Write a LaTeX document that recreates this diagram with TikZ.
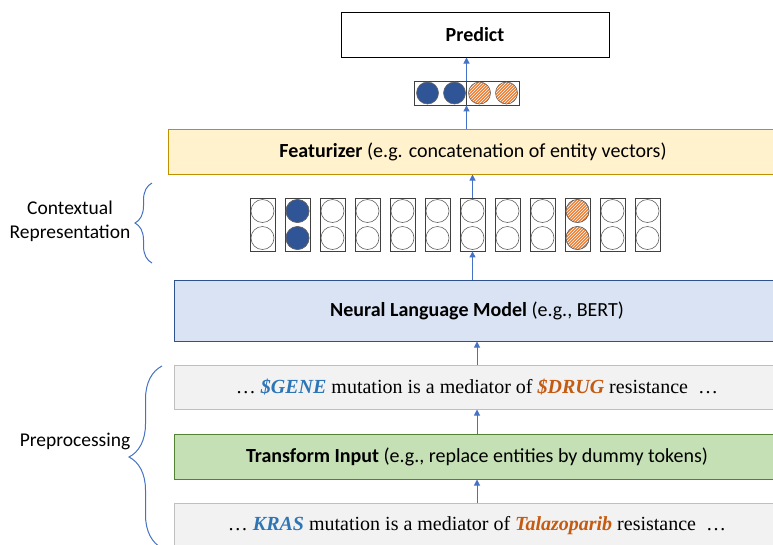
\documentclass[tikz,border=0pt]{standalone}
\usepackage{fontspec}
\setmainfont{Carlito}
\newfontfamily\sentfont{Liberation Serif}
\usepackage{tikz}
\usetikzlibrary{arrows.meta, patterns, decorations.pathreplacing, calc}
\definecolor{Arrow_Blue}{RGB}{68,114,196}
\definecolor{Gene_Blue}{RGB}{46,117,182}
\definecolor{Drug_Orange}{RGB}{197,90,17}
\definecolor{Dot_Blue}{RGB}{47,85,151}
\definecolor{Dot_Orange}{RGB}{237,125,49}
\definecolor{Dot_Line}{RGB}{100,100,100}
\definecolor{Cell_Line}{RGB}{64,64,64}
\definecolor{Feat_Fill}{RGB}{255,242,204}
\definecolor{Feat_Line}{RGB}{191,144,0}
\definecolor{Model_Fill}{RGB}{218,227,243}
\definecolor{Model_Line}{RGB}{47,82,143}
\definecolor{Sent_Fill}{RGB}{242,242,242}
\definecolor{Sent_Line}{RGB}{191,191,191}
\definecolor{Trans_Fill}{RGB}{197,224,180}
\definecolor{Trans_Line}{RGB}{84,130,53}

\begin{document}
\begin{tikzpicture}[x=1pt, y=-1pt,
    box/.style={draw, line width=1pt, minimum width=606pt, minimum height=45pt,
        inner sep=0pt, font=\fontsize{20}{24}\selectfont},
    sent/.style={box, draw=Sent_Line, fill=Sent_Fill, font=\sentfont\fontsize{20}{24}\selectfont},
    cell/.style={draw=Cell_Line, line width=0.8pt, minimum width=25pt,
        minimum height=53pt, inner sep=0pt},
    dot/.style={circle, draw=Dot_Line, line width=0.6pt, minimum size=23pt, inner sep=0pt},
    bluedot/.style={dot, fill=Dot_Blue},
    orangedot/.style={dot, preaction={fill=Dot_Orange}, pattern=north east lines, pattern color=white},
    arr/.style={Arrow_Blue, line width=1pt, -{Triangle[width=6pt,length=6pt]}},
    brc/.style={Arrow_Blue, line width=1pt, decorate},
    side/.style={font=\fontsize{19.5}{24}\selectfont, align=center}
]
    %% Background
    \useasboundingbox (0,0) rectangle (773,544);

    %% Predict
    \node[box, draw=black, fill=white, minimum width=268pt, font=\fontsize{20}{24}\selectfont\bfseries]
        (predict) at (475,34.5) {Predict};

    %% Entity vector
    \node[cell, minimum width=105pt, minimum height=24pt] (entvec) at (466.5,93) {};
    \draw[Cell_Line, line width=0.8pt] (entvec.north) to (entvec.south);
    \node[bluedot, minimum size=22pt] (e1) at (427.5,93) {};
    \node[bluedot, minimum size=22pt] (e2) at (454.5,93) {};
    \node[orangedot, minimum size=22pt] (e3) at (479.5,93) {};
    \node[orangedot, minimum size=22pt] (e4) at (506.5,93) {};

    %% Featurizer
    \node[box, draw=Feat_Line, fill=Feat_Fill, minimum width=610pt] (feat) at (473,151.5)
        {\textbf{Featurizer} (e.g. concatenation of entity vectors)};

    %% Contextual vectors
    \foreach \i in {1,...,12}
    {
        \node[cell] (col\i) at (227.5+35*\i,224.5) {};
        \node[dot] (top\i) at (227.5+35*\i,211) {};
        \node[dot] (bot\i) at (227.5+35*\i,238) {};
    }
    \node[bluedot] at (top2) {};
    \node[bluedot] at (bot2) {};
    \node[orangedot] at (top10) {};
    \node[orangedot] at (bot10) {};

    %% Language model
    \node[box, draw=Model_Line, fill=Model_Fill, minimum height=61pt] (nlm) at (477,310.5)
        {\textbf{Neural Language Model} (e.g., BERT)};

    %% Sentences
    \node[sent, minimum height=44pt] (masked) at (477,387)
        {\ldots\ \textcolor{Gene_Blue}{\textbf{\textit{\$GENE}}} mutation is a mediator of
        \textcolor{Drug_Orange}{\textbf{\textit{\$DRUG}}} resistance \ \ldots};
    \node[box, draw=Trans_Line, fill=Trans_Fill] (transform) at (477,456.5)
        {\textbf{Transform Input} (e.g., replace entities by dummy tokens)};
    \node[sent] (raw) at (477,525.5)
        {\ldots\ \textcolor{Gene_Blue}{\textbf{\textit{KRAS}}} mutation is a mediator of
        \textcolor{Drug_Orange}{\textbf{\textit{Talazoparib}}} resistance \ \ldots};

    %% Arrows
    \draw[arr] (entvec.north) to (entvec.north |- predict.south);
    \draw[arr] (entvec.south |- feat.north) to (entvec.south);
    \draw[arr] (col7.north) to (col7.north |- feat.south);
    \draw[arr] (nlm.north -| col7.south) to (col7.south);
    \draw[arr] (masked.north) to (nlm.south);
    \draw[arr] (transform.north) to (masked.south);
    \draw[arr] (raw.north) to (transform.south);

    %% Braces
    \draw[brc, decoration={brace, amplitude=17pt}] (152,263) to (152,183);
    \node[side] (ctxlbl) at (70,221) {Contextual\\Representation};
    \draw[brc, decoration={brace, amplitude=33pt}] (162,548) to (162,366);
    \node[side] (prelbl) at (75,441) {Preprocessing};
\end{tikzpicture}
\end{document}
